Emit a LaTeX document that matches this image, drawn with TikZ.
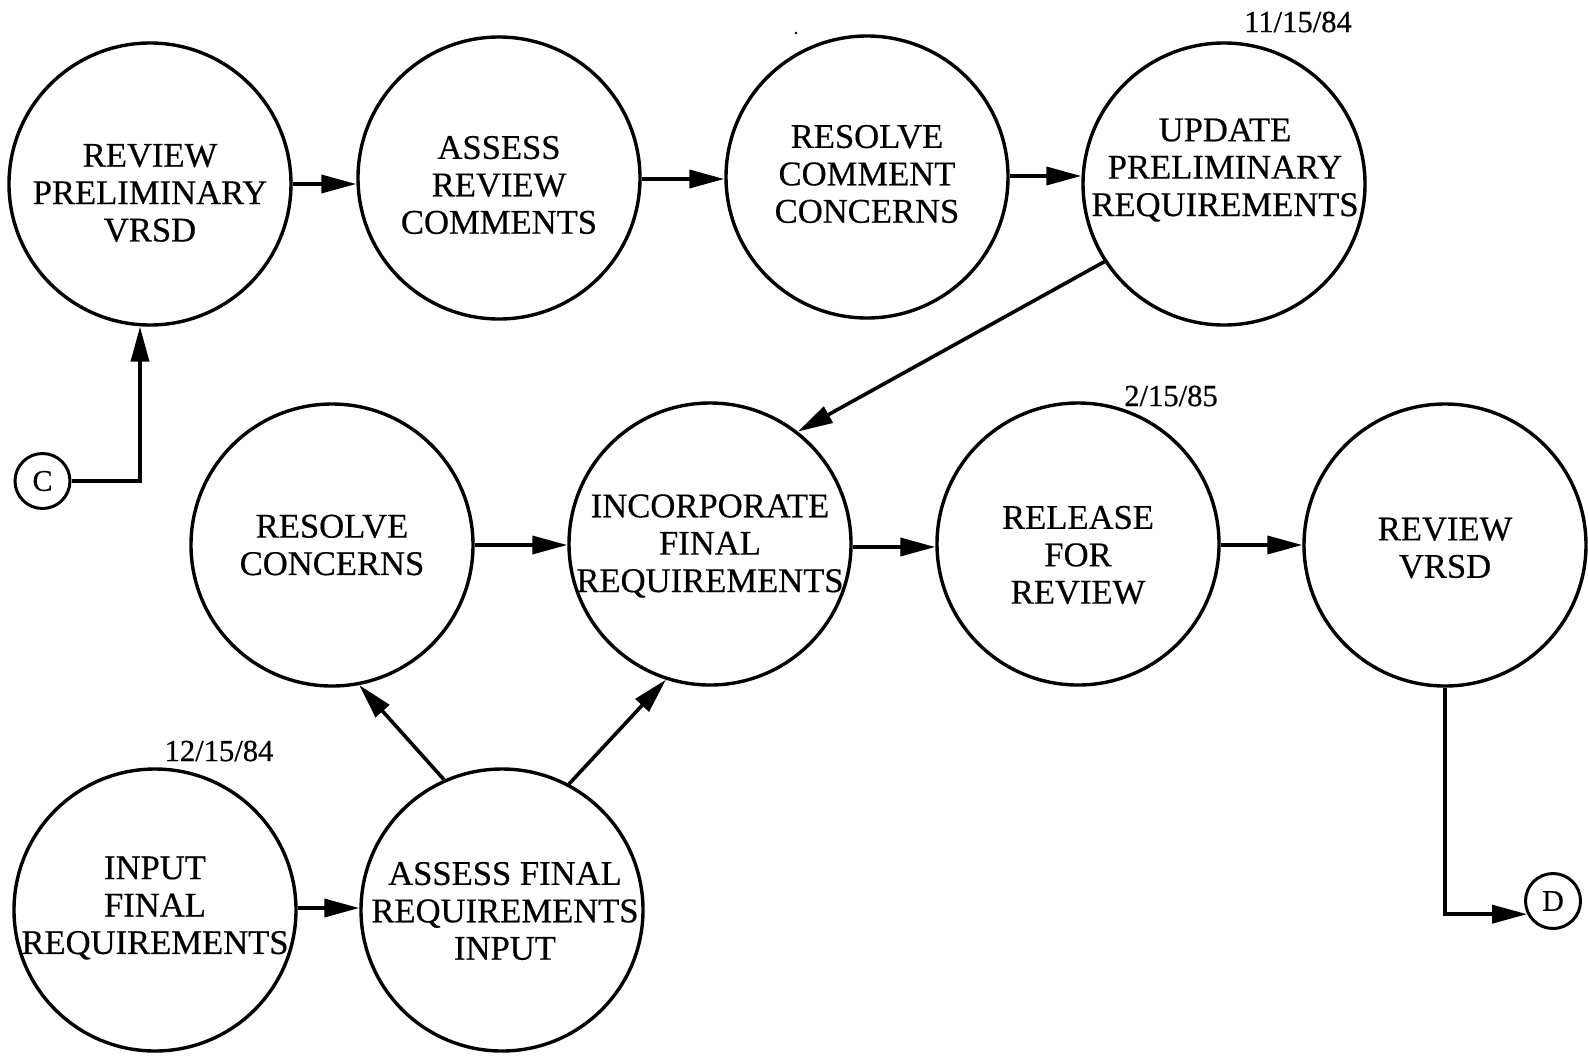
\documentclass[tikz,border=0pt]{standalone}
\usepackage{fontspec}
\setmainfont{Liberation Serif}[FakeBold=0.5]
\usetikzlibrary{arrows.meta}
\begin{document}
\begin{tikzpicture}[x=0.5pt,y=-0.5pt,
  proc/.style={circle,draw,line width=1.7pt,minimum size=141pt,inner sep=0pt},
  txt/.style={inner sep=0pt,align=center,font=\fontsize{17.3}{18.7}\selectfont},
  conn/.style={circle,draw,line width=1.5pt,minimum size=27.5pt,inner sep=0pt,font=\fontsize{15}{15}\selectfont},
  datelbl/.style={inner sep=0pt,font=\fontsize{15.3}{15.3}\selectfont},
  arr/.style={line width=1.8pt,-{Triangle[length=17.5pt,width=9pt]}}]
\useasboundingbox (0,0) rectangle (1588,1055);
% process circles
\node[proc] (C1) at (150,184) {};
\node[proc] (C2) at (499,178) {};
\node[proc] (C3) at (867,177) {};
\node[proc] (C4) at (1224,184) {};
\node[proc] (C5) at (332,545) {};
\node[proc] (C6) at (710,544) {};
\node[proc] (C7) at (1078,544) {};
\node[proc] (C8) at (1445,545) {};
\node[proc] (C9) at (155,910) {};
\node[proc] (C10) at (502,910) {};
% texts
\node[txt] (T1) at (150,193) {REVIEW\\PRELIMINARY\\VRSD};
\node[txt] (T2) at (499,185) {ASSESS\\REVIEW\\COMMENTS};
\node[txt] (T3) at (867,174) {RESOLVE\\COMMENT\\CONCERNS};
\node[txt] (T4) at (1225,170) {UPDATE\\PRELIMINARY\\REQUIREMENTS};
\node[txt] (T5) at (332,545) {RESOLVE\\CONCERNS};
\node[txt] (T6) at (710,546) {INCORPORATE\\FINAL\\REQUIREMENTS};
\node[txt] (T7) at (1078,555) {RELEASE\\FOR\\REVIEW};
\node[txt] (T8) at (1445,548) {REVIEW\\VRSD};
\node[txt] (T9) at (155,908) {INPUT\\FINAL\\REQUIREMENTS};
\node[txt] (T10) at (505,911) {ASSESS FINAL\\REQUIREMENTS\\INPUT};
% connectors
\node[conn] (C) at (42.5,481) {C};
\node[conn] (D) at (1553,901) {D};
% dates
\node[datelbl] (d1) at (1298,22) {11/15/84};
\node[datelbl] (d2) at (1171,396) {2/15/85};
\node[datelbl] (d3) at (219,751) {12/15/84};
% stray dot
\fill (796,33) circle (1.4);
% helper coordinates
\coordinate (cx) at (140,0);
\coordinate (y12) at (0,184);
\coordinate (y23) at (0,179);
\coordinate (y34) at (0,176);
\coordinate (y56) at (0,545);
\coordinate (y67) at (0,547);
\coordinate (y78) at (0,545);
\coordinate (y910) at (0,908);
% arrows
\draw[arr] (C1.east |- y12) -- (C2.west |- y12);
\draw[arr] (C2.east |- y23) -- (C3.west |- y23);
\draw[arr] (C3.east |- y34) -- (C4.west |- y34);
\draw[arr] (C4.213) -- (C6.52);
\draw[arr] (C5.east |- y56) -- (C6.west |- y56);
\draw[arr] (C6.east |- y67) -- (C7.west |- y67);
\draw[arr] (C7.east |- y78) -- (C8.west |- y78);
\draw[arr] (C9.east |- y910) -- (C10.west |- y910);
\draw[arr] (C10.114) -- (C5.281);
\draw[arr] (C10.62) -- (C6.252);
\draw[arr] (C.east) -| (C1.south -| cx);
\draw[arr] (C8.south) |- (D.207);
\end{tikzpicture}
\end{document}
